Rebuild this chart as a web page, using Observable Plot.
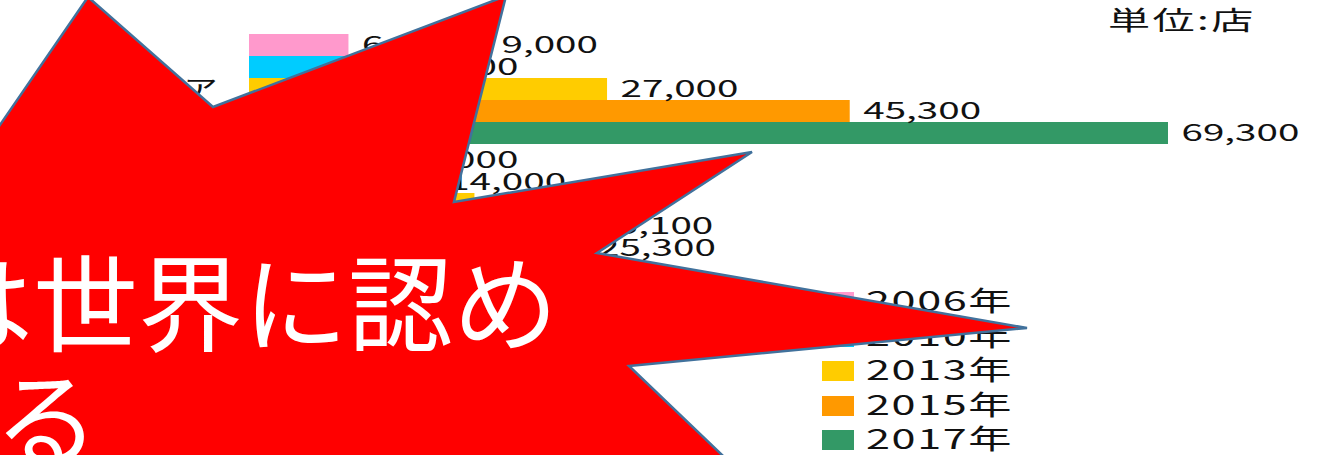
<!DOCTYPE html>
<html>
<head>
<meta charset="utf-8">
<script src="https://cdn.jsdelivr.net/npm/d3@7"></script>
<script src="https://cdn.jsdelivr.net/npm/@observablehq/plot@0.6"></script>
<style>
  html, body { margin: 0; padding: 0; background: #fff; }
  #wrap { position: relative; width: 1327px; height: 455px; overflow: hidden; background: #fff;
          font-family: "Noto Sans CJK JP", "Noto Sans", sans-serif; color: #111; }
  #chart { position: absolute; left: 0; top: 0; }
  #unit { position: absolute; left: 1108px; top: 6px; font-size: 26px; line-height: 1; white-space: nowrap;
          letter-spacing: 1.5px; transform: scaleX(1.62); transform-origin: left top; }
  #legend { position: absolute; left: 822px; top: 292px; }
  .lrow { position: absolute; left: 0; height: 21px; white-space: nowrap; }
  .sw { position: absolute; left: 0; top: 0; width: 32px; height: 20px; }
  .lt { position: absolute; left: 44px; top: -6px; font-size: 27px; line-height: 1; letter-spacing: 1px;
        transform: scaleX(1.6); transform-origin: left top; }
  #overlay { position: absolute; left: 0; top: 0; }
</style>
</head>
<body>
<div id="wrap">
  <div id="chart"></div>
  <div id="unit"></div>
  <div id="legend"></div>
  <svg id="overlay" width="1327" height="455"></svg>
</div>
<script>
// ---- data ----
const categories = ["アジア", "北米"];
const years = ["2006年", "2010年", "2013年", "2015年", "2017年"];
const colors = ["#FF99CC", "#00CCFF", "#FFCC00", "#FF9900", "#339966"];
const asiaValues = [7500, 10400, 27000, 45300, 69300];
const asiaLabels = ["6,900", "10,400", "27,000", "45,300", "69,300"];
const northAmericaValues = [10400, 14000, 17000, 25100, 25300];
const northAmericaLabels = ["10,000", "14,000", "17,000", "25,100", "25,300"];
const extraLabels = [{category: "アジア", year: "2006年", value: 19000, text: "9,000"}];
const unitLabel = "単位:店";
const calloutLines = ["日本のコンビニは世界に認め", "られる"];

// ---- build table ----
const rows = [];
[asiaValues, northAmericaValues].forEach((vals, ci) => {
  const labs = ci === 0 ? asiaLabels : northAmericaLabels;
  years.forEach((yr, i) => rows.push({category: categories[ci], year: yr, value: vals[i], label: labs[i]}));
});
const catRows = categories.map(c => ({category: c, zero: 0}));

const FONT = '"Noto Sans CJK JP", "Noto Sans", sans-serif';
const chart = Plot.plot({
  width: 1327,
  height: 455,
  marginTop: 0, marginRight: 0, marginBottom: 0, marginLeft: 0,
  style: {fontFamily: FONT, background: "transparent", color: "#111"},
  x: {domain: [0, 80000], range: [249, 249 + 80000 * 0.013261], axis: null},
  y: {domain: years, padding: 0, axis: null, round: false},
  fy: {domain: categories, range: [34, 259], paddingInner: 5 / 115, paddingOuter: 0, axis: null, round: false},
  color: {domain: years, range: colors},
  marks: [
    Plot.barX(rows, {x: "value", y: "year", fy: "category", fill: "year"}),
    Plot.text(rows, {x: "value", y: "year", fy: "category", text: "label", textAnchor: "start", dx: 13, fontSize: 23, fill: "#111"}),
    Plot.text(extraLabels, {x: "value", y: "year", fy: "category", text: "text", textAnchor: "start", fontSize: 23, fill: "#111"}),
    Plot.text(catRows, {x: "zero", fy: "category", text: "category", textAnchor: "end", dx: -32, fontSize: 24, fill: "#111"})
  ]
});
document.getElementById("chart").appendChild(chart);

// horizontally stretched lettering, as in the reference
function stretch(sel, s) {
  chart.querySelectorAll(sel).forEach(t => {
    const x = +t.getAttribute("x") || 0;
    const tr = t.getAttribute("transform") || "";
    t.setAttribute("transform", `${tr} translate(${x},0) scale(${s},1) translate(${-x},0)`);
  });
}
stretch('g[font-size="23"] text', 1.68);
stretch('g[font-size="24"] text', 1.42);

// unit label
document.getElementById("unit").textContent = unitLabel;

// legend
const legend = d3.select("#legend");
years.forEach((yr, i) => {
  const r = legend.append("div").attr("class", "lrow").style("top", (i * 34.6) + "px");
  r.append("div").attr("class", "sw").style("background", colors[i]);
  r.append("div").attr("class", "lt").text(yr);
});

// callout starburst overlay
const burst = [[-40,183],[88,-3],[213,107],[506,-4],[454,202],[752,152],[597,253],[1027,328],[629,366],[790,520],[-300,520],[-300,183]];
const ov = d3.select("#overlay");
ov.append("polygon")
  .attr("points", burst.map(p => p.join(",")).join(" "))
  .attr("fill", "#FF0000")
  .attr("stroke", "#41719C")
  .attr("stroke-width", 2.5)
  .attr("stroke-linejoin", "miter");
ov.append("text").attr("x", 558).attr("y", 343).attr("text-anchor", "end")
  .attr("font-family", FONT).attr("font-size", 105).attr("fill", "#fff").text(calloutLines[0]);
ov.append("text").attr("x", 99).attr("y", 459).attr("text-anchor", "end")
  .attr("font-family", FONT).attr("font-size", 105).attr("fill", "#fff").text(calloutLines[1]);
</script>
</body>
</html>
